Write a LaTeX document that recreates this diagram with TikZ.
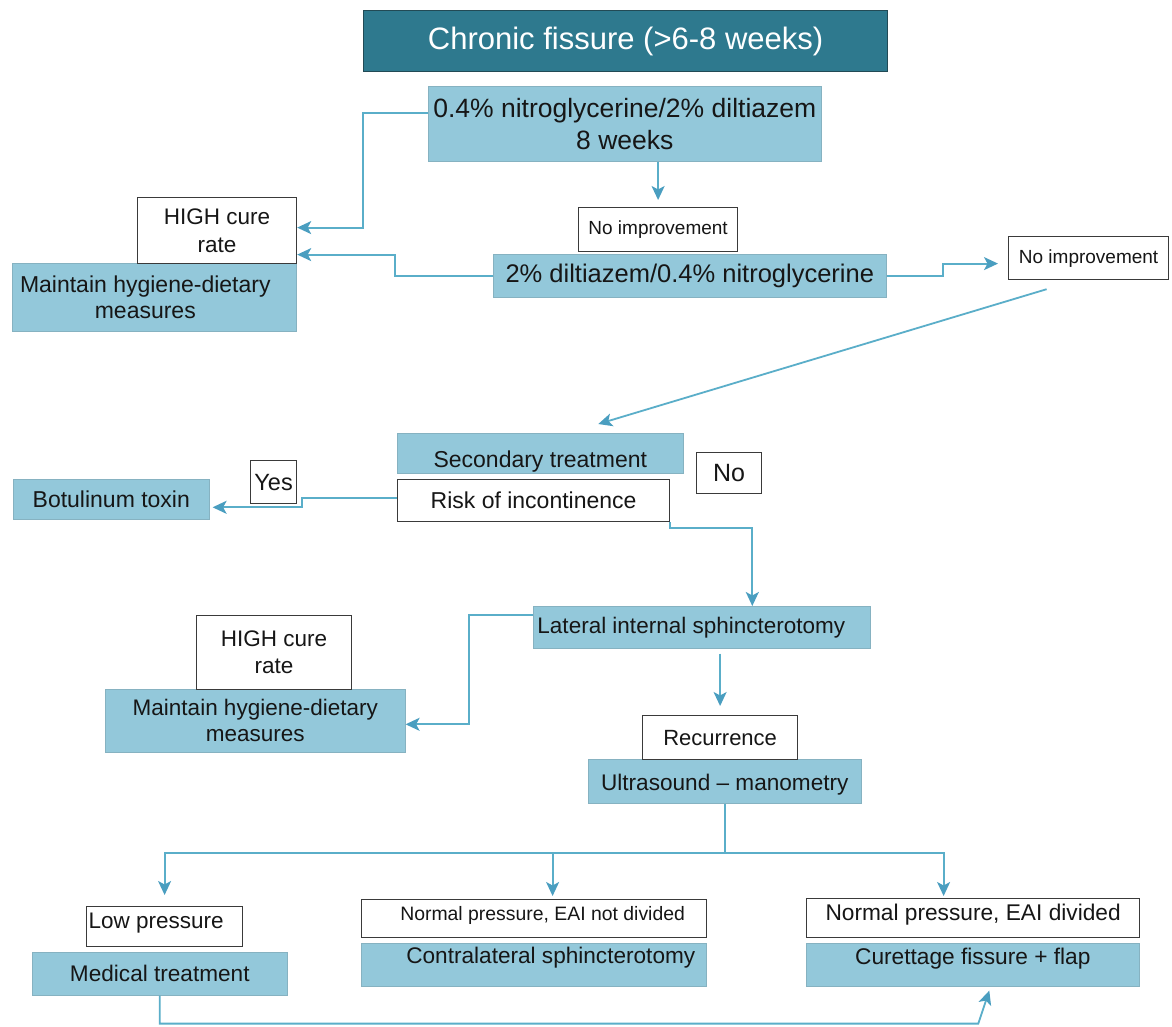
\documentclass[tikz,border=0pt]{standalone}
\usepackage{fontspec}
\setmainfont{Liberation Sans}
\usetikzlibrary{arrows.meta,calc}
\definecolor{titlebg}{HTML}{2E798E}
\definecolor{titlebd}{HTML}{224A55}
\definecolor{lblue}{HTML}{93C8DA}
\definecolor{lbluebd}{HTML}{86B2C1}
\definecolor{lnc}{HTML}{5AAEC9}
\definecolor{tipc}{HTML}{4A9EC0}
\definecolor{bord}{HTML}{3A3A3A}
\definecolor{txt}{HTML}{161616}
\newcommand{\fsz}[2]{\fontsize{#1}{#2}\selectfont}
\newcommand{\upby}[2]{\raisebox{#1}[\height][\depth]{#2}}
\begin{document}
\begin{tikzpicture}[x=1pt,y=-1pt,
  base/.style={rectangle, anchor=north west, inner xsep=1pt, inner ysep=0pt, align=center, text=txt},
  wh/.style 2 args={minimum width=#1pt, minimum height=#2pt},
  bluebox/.style={base, fill=lblue, draw=lbluebd, line width=0.6pt},
  whitebox/.style={base, fill=white, draw=bord, line width=1.2pt},
  line/.style={draw=lnc, line width=1.8pt},
  conn/.style={line, -{Stealth[length=14pt,width=13pt,inset=3.5pt,color=tipc]}},
]
\fill[white] (0,0) rectangle (1172,1026);
\useasboundingbox (0,0) rectangle (1172,1026);

% top
\node[base, fill=titlebg, draw=titlebd, line width=1.2pt, text=white, wh={524}{61}, font=\fsz{31}{36}] (title) at (363,10) {Chronic fissure (>6-8 weeks)};
\node[bluebox, wh={393}{75}, font=\fsz{26.5}{32}] (nitro) at (428,86) {0.4\% nitroglycerine/2\% diltiazem\\8 weeks};
\node[bluebox, wh={393}{43}, font=\fsz{25.5}{30}] (dilt) at (493,254) {2\% diltiazem/0.4\% nitroglycerine};
\node[whitebox, wh={159}{44}, font=\fsz{19}{22}] (noimpA) at (578,207) {No improvement};
\node[whitebox, wh={160}{43}, font=\fsz{19}{22}] (noimpB) at (1008,236) {No improvement};
\node[bluebox, wh={284}{68}, font=\fsz{23}{26}] (maintA) at (12,263) {Maintain hygiene-dietary\hspace*{18pt}\\measures\hspace*{18pt}};
\node[whitebox, wh={159}{66}, font=\fsz{22.5}{28}] (highA) at (137,197) {HIGH cure\\rate};

% middle
\node[bluebox, wh={286}{40}, font=\fsz{23}{27}] (sec) at (397,433) {\upby{-8pt}{Secondary treatment}};
\node[whitebox, wh={65}{41}, font=\fsz{25}{30}] (no) at (696,452) {No};
\node[whitebox, wh={272}{42}, font=\fsz{23}{27}] (risk) at (397,479) {Risk of incontinence};
\node[whitebox, wh={46}{43}, font=\fsz{23.5}{28}] (yes) at (250,460) {Yes};
\node[bluebox, wh={196}{40}, font=\fsz{23}{27}] (botu) at (13,479) {Botulinum toxin};
\node[bluebox, wh={337}{42}, font=\fsz{22.5}{27}] (lat) at (533,606) {Lateral internal sphincterotomy\hspace*{21pt}};
\node[bluebox, wh={300}{63}, font=\fsz{22.5}{26}] (maintB) at (105,689) {Maintain hygiene-dietary\\measures};
\node[whitebox, wh={155}{74}, font=\fsz{22.5}{27}] (highB) at (196,615) {HIGH cure\\rate};
\node[bluebox, wh={273}{44}, font=\fsz{22.6}{27}] (ultra) at (588,759) {\upby{-3pt}{Ultrasound – manometry}};
\node[whitebox, wh={155}{44}, font=\fsz{22}{26}] (rec) at (642,715) {Recurrence};

% bottom
\node[bluebox, wh={255}{43}, font=\fsz{22.6}{27}] (med) at (32,952) {Medical treatment};
\node[whitebox, wh={156}{40}, font=\fsz{22.5}{27}] (lowp) at (86,906) {\upby{4pt}{Low pressure}\hspace*{17pt}};
\node[bluebox, wh={345}{43}, font=\fsz{22.6}{27}] (contra) at (361,943) {\hspace*{34pt}\upby{7pt}{Contralateral sphincterotomy}};
\node[whitebox, wh={345}{38}, font=\fsz{19.4}{23}] (npn) at (361,899) {\hspace*{17pt}\upby{3pt}{Normal pressure, EAI not divided}};
\node[bluebox, wh={333}{43}, font=\fsz{22.7}{27}] (cur) at (806,943) {\upby{6pt}{Curettage fissure + flap}};
\node[whitebox, wh={333}{39}, font=\fsz{22.7}{27}] (npd) at (806,898) {\upby{3pt}{Normal pressure, EAI divided}};

% connectors
\draw[conn] ([yshift=-27pt]nitro.north west) -- ++(-65,0) |- ([yshift=3pt]highA.east);
\draw[conn] (dilt.west) -- ++(-98,0) |- ([yshift=-24pt]highA.east);
\draw[conn, shorten >=7pt] (nitro.south -| noimpA.north) -- (noimpA.north);
\draw[conn, shorten >=10pt] (dilt.east) -- ++(56,0) |- ([yshift=-5.5pt]noimpB.west);
\draw[conn] ([xshift=-42pt,yshift=-9pt]noimpB.south) -- ([xshift=58pt,yshift=9pt]sec.north);
\draw[conn] ([yshift=3pt]risk.west) -- ++(-95,0) |- ([xshift=3pt,yshift=-8pt]botu.east);
\draw[conn] (risk.south east) -- ++(0,6) -| ([xshift=50.5pt]lat.north);
\draw[conn] ([yshift=-9pt]lat.north west) -- ++(-64,0) |- ([yshift=-3.5pt]maintB.east);
\draw[conn, shorten <=5pt, shorten >=9pt] (lat.south -| rec.north) -- (rec.north);
\coordinate (split) at ([yshift=-49pt]ultra.south);
\draw[line] (ultra.south) -- (split);
\draw[conn, shorten >=11pt] (split) -| (lowp.north);
\draw[conn, shorten >=3pt] (split) -| ([xshift=18.5pt]npn.north);
\draw[conn, shorten >=2pt] (split) -| ([xshift=-29.5pt]npd.north);
\draw[conn] (med.south) |- ([xshift=5.5pt,yshift=-37pt]cur.south) -- ([xshift=16.5pt,yshift=-4pt]cur.south);
\end{tikzpicture}
\end{document}
